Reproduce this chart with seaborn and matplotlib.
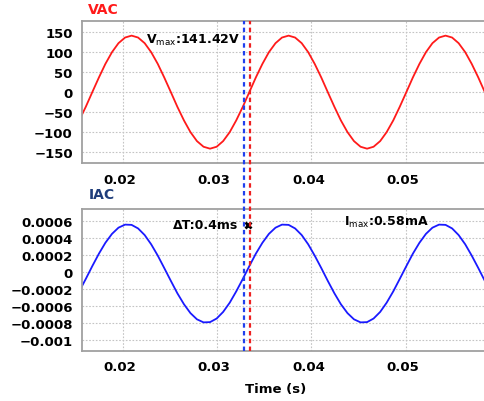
import matplotlib
matplotlib.use("Agg")
import matplotlib.pyplot as plt
import seaborn as sns
from matplotlib.lines import Line2D
from matplotlib.transforms import blended_transform_factory, ScaledTranslation

# time samples (s)
time = [0.01534, 0.01604, 0.01673, 0.01743, 0.01812, 0.01882, 0.01951, 0.02021,
        0.02090, 0.02159, 0.02229, 0.02298, 0.02368, 0.02437, 0.02507, 0.02576,
        0.02646, 0.02715, 0.02784, 0.02854, 0.02923, 0.02993, 0.03062, 0.03132,
        0.03201, 0.03271, 0.03340, 0.03409, 0.03479, 0.03548, 0.03618, 0.03687,
        0.03757, 0.03826, 0.03896, 0.03965, 0.04034, 0.04104, 0.04173, 0.04243,
        0.04312, 0.04382, 0.04451, 0.04521, 0.04590, 0.04659, 0.04729, 0.04798,
        0.04868, 0.04937, 0.05007, 0.05076, 0.05146, 0.05215, 0.05284, 0.05354,
        0.05423, 0.05493, 0.05562, 0.05632, 0.05701, 0.05771, 0.05840, 0.05909]

# voltage (V)
vac = [-70.7, -36.6, 0.0, 36.6, 70.7, 100.0, 122.5, 136.6,
       141.4, 136.6, 122.5, 100.0, 70.7, 36.6, 0.0, -36.6,
       -70.7, -100.0, -122.5, -136.6, -141.4, -136.6, -122.5, -100.0,
       -70.7, -36.6, 0.0, 36.6, 70.7, 100.0, 122.5, 136.6,
       141.4, 136.6, 122.5, 100.0, 70.7, 36.6, 0.0, -36.6,
       -70.7, -100.0, -122.5, -136.6, -141.4, -136.6, -122.5, -100.0,
       -70.7, -36.6, 0.0, 36.6, 70.7, 100.0, 122.5, 136.6,
       141.4, 136.6, 122.5, 100.0, 70.7, 36.6, 0.0, -36.6]

# current (A)
iac = [-0.000231, -0.000084, 0.000067, 0.000213, 0.000342, 0.000447, 0.00052, 0.000556,
       0.000553, 0.000511, 0.000433, 0.000324, 0.000191, 0.000044, -0.000107, -0.000253,
       -0.000382, -0.000487, -0.00056, -0.000596, -0.000593, -0.000551, -0.000473, -0.000364,
       -0.000231, -0.000084, 0.000067, 0.000213, 0.000342, 0.000447, 0.00052, 0.000556,
       0.000553, 0.000511, 0.000433, 0.000324, 0.000191, 0.000044, -0.000107, -0.000253,
       -0.000382, -0.000487, -0.00056, -0.000596, -0.000593, -0.000551, -0.000473, -0.000364,
       -0.000231, -0.000084, 0.000067, 0.000213, 0.000342, 0.000447, 0.00052, 0.000556,
       0.000553, 0.000511, 0.000433, 0.000324, 0.000191, 0.000044, -0.000107, -0.000253]

x_ticks = [0.02, 0.03, 0.04, 0.05]
x_labels = ["0.02", "0.03", "0.04", "0.05"]
v_ticks = [150, 100, 50, 0, -50, -100, -150]
i_ticks = [0.0006, 0.0004, 0.0002, 0, -0.0002, -0.0004, -0.0006, -0.0008]
i_labels = ["0.0006", "0.0004", "0.0002", "0", "\u22120.0002", "\u22120.0006", "\u22120.0008", "\u22120.001"]

cursor_blue = 0.0328
cursor_red = 0.03346

sns.set_style("white")
plt.rcParams["font.family"] = ["DejaVu Sans"]
plt.rcParams["text.color"] = "black"
plt.rcParams["axes.labelcolor"] = "black"
plt.rcParams["xtick.color"] = "black"
plt.rcParams["ytick.color"] = "black"

fig = plt.figure(figsize=(4.85, 4.02), dpi=100)
ax1 = fig.add_axes([0.1701, 0.5913, 0.8299, 0.354])
ax2 = fig.add_axes([0.1701, 0.1251, 0.8299, 0.3525])

sns.lineplot(x=time, y=vac, ax=ax1, color="#ff1a1a", linewidth=1.3)
sns.lineplot(x=time, y=iac, ax=ax2, color="#1a1aff", linewidth=1.3)

for ax in (ax1, ax2):
    ax.set_xlim(0.01569, 0.05842)
    ax.set_xticks(x_ticks)
    ax.set_xticklabels(x_labels)
    ax.grid(True, color="#c4c4c4", linestyle=(0, (1.5, 1.5)), linewidth=0.8)
    for s in ax.spines.values():
        s.set_color("#a0a0a0")
        s.set_linewidth(1.3)
    ax.tick_params(length=0, labelsize=9.5, pad=7, labelcolor="black")
    for lab in ax.get_xticklabels() + ax.get_yticklabels():
        lab.set_fontweight("bold")
    for lab in ax.get_xticklabels():
        lab.set_transform(lab.get_transform() + ScaledTranslation(-3 / 100, 0, fig.dpi_scale_trans))
    ax.set_xlabel("")
    ax.set_ylabel("")

ax1.set_ylim(-178, 178)
ax1.set_yticks(v_ticks)
for lab in ax1.get_yticklabels():
    lab.set_fontweight("bold")

ax2.set_ylim(-0.00093, 0.00074)
ax2.set_yticks(i_ticks)
ax2.set_yticklabels(i_labels, fontweight="bold")

ax2.set_xlabel("Time (s)", fontsize=9.5, fontweight="bold", color="black")
ax2.xaxis.set_label_coords(0.4805, -0.265)
ax2.xaxis.label.set_va("center")

fig.text(0.1808, 0.975, "VAC", color="#ff1a1a", fontsize=10, fontweight="bold", va="center")
fig.text(0.1835, 0.5149, "IAC", color="#1f3d7a", fontsize=10, fontweight="bold", va="center")

ax1.text(0.03241, 130.75, r"V$_{\mathrm{max}}$:141.42V", fontsize=9, fontweight="bold",
         ha="right", va="center", color="black")
ax2.text(0.03223, 0.000561, "\u0394T:0.4ms", fontsize=9, fontweight="bold", ha="right", va="center",
         color="black")
ax2.plot([0.03323], [0.000549], marker="x", color="black", markersize=4.5, markeredgewidth=2)
ax2.text(0.04345, 0.000593, r"I$_{\mathrm{max}}$:0.58mA", fontsize=9, fontweight="bold",
         ha="left", va="center", color="black")

# cursor lines spanning both panels
tr = blended_transform_factory(ax1.transData, fig.transFigure)
for xc, col in ((cursor_blue, "#2040ee"), (cursor_red, "#ee2020")):
    fig.add_artist(Line2D([xc, xc], [0.1251, 0.9453], transform=tr, color=col,
                          linewidth=1.6, linestyle=(0, (2.0, 1.5))))

fig.savefig("out.png", dpi=100)
